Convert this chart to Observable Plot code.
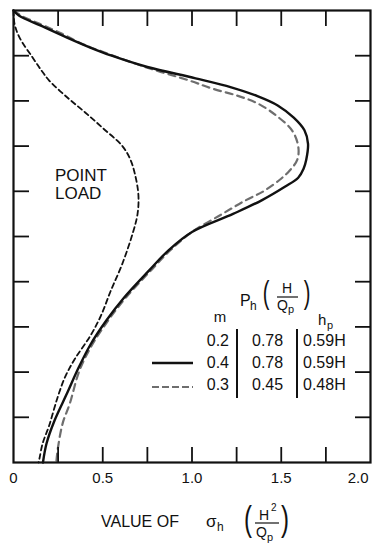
<!DOCTYPE html>
<html><head><meta charset="utf-8">
<script src="https://cdn.jsdelivr.net/npm/d3@7"></script>
<script src="https://cdn.jsdelivr.net/npm/@observablehq/plot@0.6"></script>
<style>body{margin:0;background:#fff;} svg{display:block;}</style>
</head><body><div id="chart"></div>
<script>
// ---- data (depth z/H, value of sigma_h * H^2/Qp) ----
const depthM04 = [0, 0.011, 0.033, 0.060, 0.082, 0.100, 0.125, 0.150, 0.170, 0.190, 0.210, 0.237, 0.265, 0.295, 0.330, 0.350, 0.370, 0.390, 0.420, 0.450, 0.490, 0.530, 0.575, 0.635, 0.686, 0.740, 0.790, 0.847, 0.907, 0.958, 1.000];
const valueM04 = [0, 0.03, 0.15, 0.30, 0.43, 0.55, 0.75, 1.02, 1.22, 1.37, 1.48, 1.57, 1.63, 1.65, 1.64, 1.625, 1.595, 1.52, 1.39, 1.23, 1.00, 0.87, 0.76, 0.62, 0.52, 0.43, 0.365, 0.30, 0.23, 0.185, 0.165];

const depthM03 = [0, 0.013, 0.030, 0.051, 0.073, 0.093, 0.126, 0.155, 0.173, 0.188, 0.206, 0.235, 0.265, 0.300, 0.330, 0.355, 0.375, 0.400, 0.420, 0.450, 0.490, 0.530, 0.575, 0.635, 0.686, 0.740, 0.796, 0.870, 0.914, 0.973, 1.000];
const valueM03 = [0, 0.05, 0.15, 0.27, 0.38, 0.51, 0.745, 0.985, 1.115, 1.25, 1.37, 1.48, 1.56, 1.595, 1.59, 1.545, 1.49, 1.40, 1.30, 1.17, 1.00, 0.88, 0.77, 0.63, 0.53, 0.44, 0.37, 0.315, 0.275, 0.247, 0.24];

const depthPoint = [0, 0.030, 0.060, 0.104, 0.133, 0.155, 0.192, 0.225, 0.260, 0.300, 0.330, 0.370, 0.410, 0.450, 0.490, 0.560, 0.620, 0.675, 0.720, 0.770, 0.810, 0.856, 0.918, 0.958, 0.990, 1.000];
const valuePoint = [0, 0.006, 0.034, 0.107, 0.157, 0.20, 0.30, 0.40, 0.50, 0.61, 0.655, 0.685, 0.70, 0.695, 0.67, 0.61, 0.545, 0.49, 0.43, 0.345, 0.29, 0.247, 0.20, 0.163, 0.146, 0.14];

const xTickValues = [0.25, 0.5, 0.75, 1.0, 1.25, 1.5, 1.75];
const yTickValues = [0.1, 0.2, 0.3, 0.4, 0.5, 0.6, 0.7, 0.8, 0.9];
const xLabelValues = [0, 0.5, 1.0, 1.5, 2.0];
const xLabelTexts = ["0", "0.5", "1.0", "1.5", "2.0"];

const legendM = ["0.2", "0.4", "0.3"];
const legendPh = ["0.78", "0.78", "0.45"];
const legendHp = ["0.59H", "0.59H", "0.48H"];

// ---- build tables ----
const toRows = (ds, vs) => ds.map((d, i) => ({d, v: vs[i]}));
const rowsM04 = toRows(depthM04, valueM04);
const rowsM03 = toRows(depthM03, valueM03);
const rowsPoint = toRows(depthPoint, valuePoint);
const labelRows = xLabelValues.map((v, i) => ({v, t: xLabelTexts[i]}));

const FONT = "'Liberation Sans', Arial, Helvetica, sans-serif";
const INK = "#111";

const chart = Plot.plot({
  width: 376, height: 549,
  marginTop: 10, marginBottom: 87, marginLeft: 13, marginRight: 6,
  style: {fontFamily: FONT, background: "#fff", color: INK, overflow: "visible"},
  x: {domain: [0, 2]},
  y: {domain: [0, 1], reverse: true},
  marks: [
    Plot.line(rowsPoint, {x: "v", y: "d", curve: "catmull-rom", stroke: INK, strokeWidth: 1.8, strokeDasharray: "5,3.5"}),
    Plot.line(rowsM03, {x: "v", y: "d", curve: "catmull-rom", stroke: "#6e6e6e", strokeWidth: 2.2, strokeDasharray: "7,5"}),
    Plot.line(rowsM04, {x: "v", y: "d", curve: "catmull-rom", stroke: INK, strokeWidth: 2.4}),
    Plot.axisX({anchor: "top", ticks: xTickValues, tickSize: -15, tickFormat: () => "", label: null, strokeWidth: 1.8, stroke: INK}),
    Plot.axisX({anchor: "bottom", ticks: xTickValues, tickSize: -15, tickFormat: () => "", label: null, strokeWidth: 1.8, stroke: INK}),
    Plot.axisY({anchor: "left", ticks: yTickValues, tickSize: -16, tickFormat: () => "", label: null, strokeWidth: 1.8, stroke: INK}),
    Plot.axisY({anchor: "right", ticks: yTickValues, tickSize: -16, tickFormat: () => "", label: null, strokeWidth: 1.8, stroke: INK}),
    Plot.frame({stroke: INK, strokeWidth: 2.2}),
    Plot.text(labelRows.slice(0, 4), {x: "v", text: "t", frameAnchor: "bottom", dy: 20, fontSize: 15, fill: INK}),
    Plot.text(labelRows.slice(4), {x: "v", text: "t", frameAnchor: "bottom", dy: 20, dx: -2, textAnchor: "end", fontSize: 15, fill: INK})
  ]
});
document.getElementById("chart").appendChild(chart);

// ---- annotations (text, legend) ----
const g = d3.select(chart).append("g").attr("font-family", FONT).attr("fill", INK);
function txt(x, y, s, size, anchor = "start") {
  return g.append("text").attr("x", x).attr("y", y).attr("font-size", size).attr("text-anchor", anchor).text(s);
}
function paren(x, y, s, size, sy) {
  return g.append("text").attr("transform", `translate(${x},${y}) scale(1,${sy})`).attr("font-size", size).attr("text-anchor", "middle").text(s);
}
function hline(x1, x2, y, w, dash, color = INK) {
  const l = g.append("line").attr("x1", x1).attr("x2", x2).attr("y1", y).attr("y2", y).attr("stroke", color).attr("stroke-width", w);
  if (dash) l.attr("stroke-dasharray", dash);
  return l;
}
function vline(x, y1, y2, w) {
  return g.append("line").attr("x1", x).attr("x2", x).attr("y1", y1).attr("y2", y2).attr("stroke", INK).attr("stroke-width", w);
}

// POINT LOAD
txt(55, 181, "POINT", 17);
txt(55, 199, "LOAD", 17);

// legend header
txt(240, 306, "P", 16);
txt(250, 310, "h", 12);
paren(266, 303, "(", 20, 1.6);
txt(287, 293, "H", 14, "middle");
hline(277, 298, 297, 1.2);
txt(277, 310, "Q", 14);
txt(288, 313, "p", 11);
paren(307, 303, ")", 20, 1.6);
txt(220, 322, "m", 15, "middle");
txt(318, 325, "h", 15);
txt(327, 329, "p", 11);

// legend rows
const rowY = [346, 368, 390];
legendM.forEach((s, i) => txt(229, rowY[i], s, 16, "end"));
legendPh.forEach((s, i) => txt(252, rowY[i], s, 16));
legendHp.forEach((s, i) => txt(303, rowY[i], s, 16));
vline(237, 329, 398, 2);
vline(297, 329, 398, 2);
hline(152, 193, 363, 2.4);
hline(152, 193, 387, 2.2, "7,3", "#6e6e6e");

// axis title
txt(101, 527, "VALUE OF", 16);
txt(206, 527, "σ", 17);
txt(217, 531, "h", 12);
paren(248, 531, "(", 24, 1.5);
txt(264, 520, "H", 14, "middle");
txt(271, 511, "2", 10);
hline(255, 279, 523, 1.2);
txt(256, 537, "Q", 14);
txt(267, 541, "p", 11);
paren(285, 531, ")", 24, 1.5);
</script>
</body></html>
